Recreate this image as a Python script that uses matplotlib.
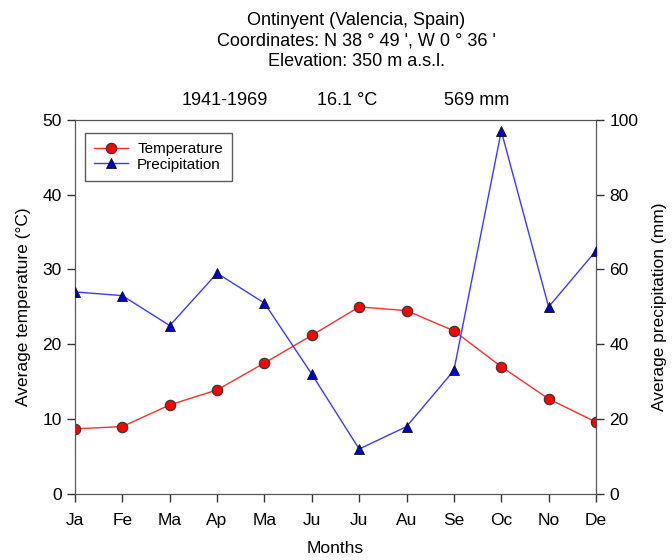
import matplotlib.pyplot as plt

plt.rcParams['font.family'] = ['Liberation Sans', 'DejaVu Sans']

months = ['Ja', 'Fe', 'Ma', 'Ap', 'Ma', 'Ju', 'Ju', 'Au', 'Se', 'Oc', 'No', 'De']
temperature = [8.7, 9.0, 11.9, 13.9, 17.5, 21.2, 25.0, 24.5, 21.8, 17.0, 12.7, 9.6]
precipitation = [54, 53, 45, 59, 51, 32, 12, 18, 33, 97, 50, 65]

fig = plt.figure(figsize=(6.72, 5.6), dpi=100)
ax = fig.add_axes([0.1116, 0.118, 0.7753, 0.668])
ax2 = ax.twinx()

x = range(len(months))
l1, = ax.plot(x, temperature, '-o', color='#ff3030', lw=1,
              mfc='red', mec='#333333', mew=0.8, ms=7.5, label='Temperature', zorder=3)
l2, = ax2.plot(x, precipitation, '-^', color='#3c3cff', lw=1,
               mfc='#0000cc', mec='#111111', mew=0.6, ms=7.5, label='Precipitation', zorder=3)

ax.set_xlim(0, 11)
ax.set_ylim(0, 50)
ax2.set_ylim(0, 100)
ax.set_xticks(list(x))
ax.set_xticklabels(months)
ax.set_yticks(range(0, 51, 10))
ax2.set_yticks(range(0, 101, 20))

for a in (ax, ax2):
    a.tick_params(direction='out', length=6, width=1, labelsize=12.5, color='#333333')
    for s in a.spines.values():
        s.set_color('#555555')
ax.tick_params(axis='x', pad=8)

ax.set_xlabel('Months', fontsize=12.5, labelpad=9)
ax.set_ylabel('Average temperature (°C)', fontsize=12.5, labelpad=8)
ax2.set_ylabel('Average precipitation (mm)', fontsize=12.5, labelpad=10)

leg = ax.legend(handles=[l1, l2], loc='upper left', bbox_to_anchor=(0.005, 0.985),
                fontsize=11, frameon=True, fancybox=False, handlelength=2.2,
                borderpad=0.6, labelspacing=0.1, handletextpad=0.6)
leg.get_frame().set_edgecolor('#333333')
leg.get_frame().set_linewidth(1)

fig.text(0.53, 0.964, 'Ontinyent (Valencia, Spain)', ha='center', va='center', fontsize=13)
fig.text(0.53, 0.927, "Coordinates: N 38 ° 49 ', W 0 ° 36 '", ha='center', va='center', fontsize=13)
fig.text(0.53, 0.890, 'Elevation: 350 m a.s.l.', ha='center', va='center', fontsize=13)
fig.text(0.335, 0.82, '1941-1969', ha='center', va='center', fontsize=13)
fig.text(0.517, 0.82, '16.1 °C', ha='center', va='center', fontsize=13)
fig.text(0.71, 0.82, '569 mm', ha='center', va='center', fontsize=13)

fig.savefig('out.png', dpi=100)
